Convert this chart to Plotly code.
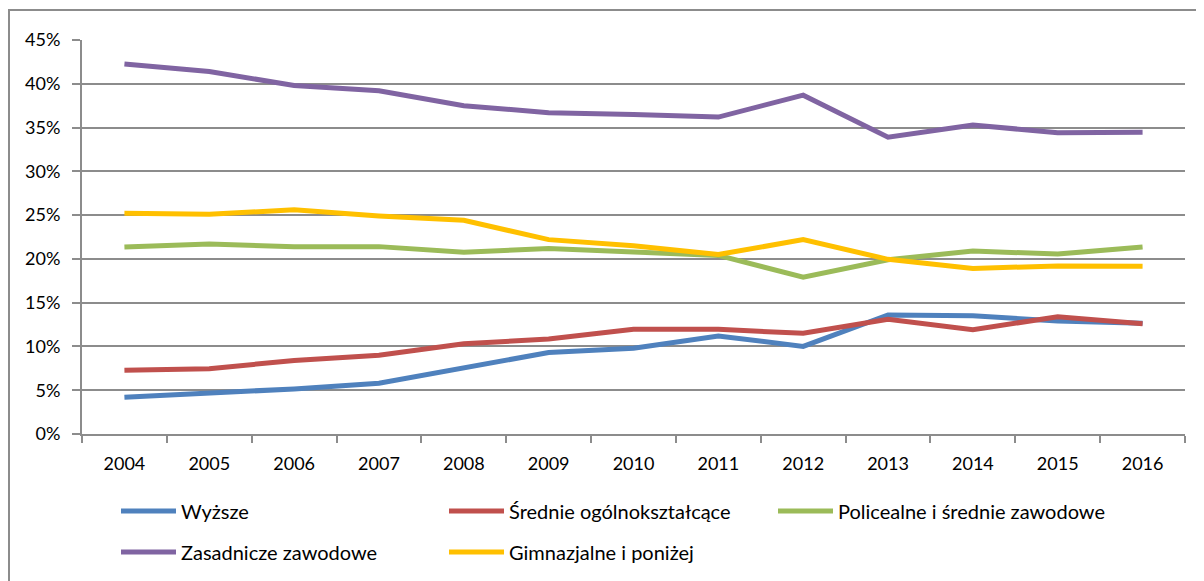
import plotly.graph_objects as go

years = ["2004", "2005", "2006", "2007", "2008", "2009", "2010", "2011", "2012", "2013", "2014", "2015", "2016"]

wyzsze = [4.2, 4.7, 5.15, 5.8, 7.5, 9.3, 9.8, 11.2, 10.0, 13.6, 13.5, 12.9, 12.65]
srednie_ogolne = [7.27, 7.46, 8.4, 9.0, 10.3, 10.85, 11.95, 11.95, 11.5, 13.1, 11.9, 13.4, 12.6]
policealne = [21.35, 21.7, 21.4, 21.4, 20.75, 21.2, 20.8, 20.4, 17.9, 19.9, 20.9, 20.55, 21.35]
zasadnicze = [42.26, 41.4, 39.8, 39.2, 37.5, 36.7, 36.5, 36.2, 38.7, 33.9, 35.3, 34.4, 34.45]
gimnazjalne = [25.2, 25.1, 25.6, 24.9, 24.4, 22.2, 21.5, 20.5, 22.2, 19.95, 18.9, 19.2, 19.15]

names = ["Wyższe", "Średnie ogólnokształcące", "Policealne i średnie zawodowe",
         "Zasadnicze zawodowe", "Gimnazjalne i poniżej"]
series = [wyzsze, srednie_ogolne, policealne, zasadnicze, gimnazjalne]
colors = ["#4F81BD", "#C0504D", "#9BBB59", "#8064A2", "#FFC000"]
legends = ["legend", "legend", "legend3", "legend2", "legend2"]

FONT = "Lato"
W, H = 1204, 581
# page body has an 8px margin; figure coordinates = screen - 8
L, T, R, B = 74, 32, 1177, 426
PW, PH = R - L, B - T

fig = go.Figure()
for name, vals, col, lg in zip(names, series, colors, legends):
    fig.add_trace(go.Scatter(
        x=years, y=[v / 100 for v in vals], name=name, mode="lines",
        line=dict(color=col, width=5), legend=lg,
    ))

grid = "#8C8C8C"
legend_common = dict(
    orientation="h", xref="container", yref="container",
    x=108 / W, xanchor="left", yanchor="middle",
    entrywidth=258, entrywidthmode="pixels", itemwidth=55,
    font=dict(family=FONT, size=20), bgcolor="rgba(0,0,0,0)",
)
legend_third = dict(legend_common)
legend_third.pop("entrywidth")
legend_third.pop("entrywidthmode")

fig.update_layout(
    width=W, height=H,
    margin=dict(l=L, r=W - R, t=T, b=H - B, autoexpand=False),
    paper_bgcolor="white", plot_bgcolor="white",
    font=dict(family=FONT, size=18, color="#000000"),
    xaxis=dict(
        type="category", tickson="boundaries", showgrid=False,
        ticks="outside", ticklen=7, tickcolor=grid, tickwidth=2,
        showline=True, linecolor=grid, linewidth=2,
        range=[-0.5, 12.5], ticklabelstandoff=12,
    ),
    yaxis=dict(
        range=[0, 0.45], dtick=0.05, tickformat=".0%",
        ticks="outside", ticklen=8, tickcolor=grid, tickwidth=2,
        showgrid=True, gridcolor=grid, gridwidth=2,
        showline=True, linecolor=grid, linewidth=2,
        zeroline=False, ticklabelstandoff=8,
    ),
    legend=dict(legend_common, y=(H - 503) / H),
    legend2=dict(legend_common, y=(H - 544) / H),
    legend3=dict(legend_third, x=765 / W, y=(H - 503) / H),
    showlegend=True,
)

# outer chart-area border
fig.add_shape(type="rect", xref="paper", yref="paper",
              x0=(1 - L) / PW, x1=(W + 20 - L) / PW,
              y0=(B - (H + 20)) / PH, y1=(B - 2) / PH,
              line=dict(color="#8C8C8C", width=2), layer="below")

fig.write_html("out.html")
